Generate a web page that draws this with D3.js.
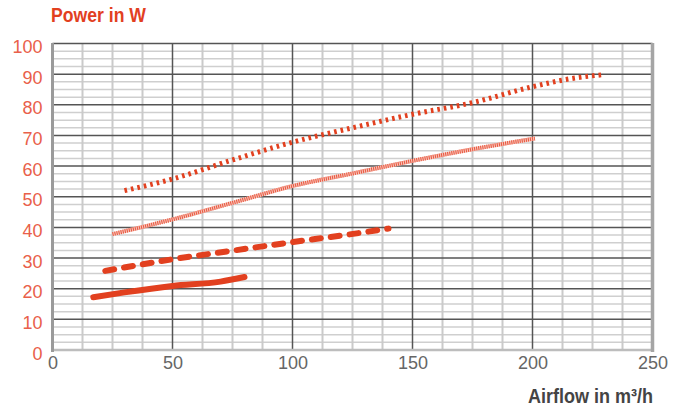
<!DOCTYPE html>
<html><head><meta charset="utf-8">
<script src="https://cdn.jsdelivr.net/npm/d3@7"></script>
<style>body{margin:0;background:#fff}svg{display:block}</style>
</head><body>
<svg id="c" width="683" height="412"></svg>
<script>
const xTicks = [0, 50, 100, 150, 200, 250];
const yTicks = [0, 10, 20, 30, 40, 50, 60, 70, 80, 90, 100];
const titleY = "Power in W";
const titleX = "Airflow in m³/h";

const solidX = [17, 30, 50, 70, 80];
const solidY = [17.2, 18.8, 20.9, 22.3, 23.8];
const dashedX = [22, 50, 75, 100, 120, 140];
const dashedY = [25.8, 29.6, 32.4, 35.2, 37.3, 39.6];
const hatchX = [25, 50, 75, 100, 125, 150, 175, 201];
const hatchY = [37.8, 42.6, 48, 53.5, 57.6, 61.7, 65.5, 69];
const dotX = [30, 50, 75, 100, 125, 150, 175, 200, 215, 229];
const dotY = [52, 55.8, 62, 67.8, 72.5, 76.9, 80.7, 85.9, 88.4, 89.8];

const svg = d3.select("#c");
const x = d3.scaleLinear().domain([0, 250]).range([52.5, 652.5]);
const y = d3.scaleLinear().domain([0, 100]).range([350, 43.5]);
const red = "#e2401f";

const g = svg.append("g");
const minorX = d3.range(0, 250.01, 12.5).filter(v => v % 50 !== 0);
const minorY = d3.range(0, 100.01, 2.5).filter(v => v % 10 !== 0);
g.selectAll(".my").data(minorY).join("line")
  .attr("x1", x(0)).attr("x2", x(250)).attr("y1", d => y(d)).attr("y2", d => y(d))
  .attr("stroke", "#cfcfcf").attr("stroke-width", 1.5);
g.selectAll(".mx").data(minorX).join("line")
  .attr("x1", d => x(d)).attr("x2", d => x(d)).attr("y1", y(0)).attr("y2", y(100))
  .attr("stroke", "#cacaca").attr("stroke-width", 2);
g.selectAll(".My").data(yTicks.filter(v => v > 0)).join("line")
  .attr("x1", x(0)).attr("x2", x(250)).attr("y1", d => y(d)).attr("y2", d => y(d))
  .attr("stroke", "#555").attr("stroke-width", 1.5);
g.selectAll(".Mx").data(xTicks.filter(v => v > 0 && v < 250)).join("line")
  .attr("x1", d => x(d)).attr("x2", d => x(d)).attr("y1", y(0)).attr("y2", y(100))
  .attr("stroke", "#555").attr("stroke-width", 1.5);
g.append("line").attr("x1", x(0)).attr("x2", x(250)).attr("y1", y(0)).attr("y2", y(0))
  .attr("stroke", "#bdbdbd").attr("stroke-width", 2.5);
g.append("line").attr("x1", x(0)).attr("x2", x(0)).attr("y1", y(100) - 0.5).attr("y2", y(0) + 2)
  .attr("stroke", "#9a9a9a").attr("stroke-width", 3);
g.append("line").attr("x1", x(250)).attr("x2", x(250)).attr("y1", y(100) - 0.5).attr("y2", y(0) + 2)
  .attr("stroke", "#a5a5a5").attr("stroke-width", 3.5);

const yAxis = d3.axisLeft(y).tickValues(yTicks).tickSize(0).tickPadding(10);
const ya = svg.append("g").attr("transform", `translate(${x(0)},0)`).call(yAxis);
ya.select(".domain").remove();
ya.selectAll("text").attr("fill", "#e9604a").attr("font-size", 18)
  .attr("font-family", "'Liberation Sans', Arial, sans-serif").attr("dy", "0.5em");
const xAxis = d3.axisBottom(x).tickValues(xTicks).tickSize(0).tickPadding(6);
const xa = svg.append("g").attr("transform", `translate(0,${y(0)})`).call(xAxis);
xa.select(".domain").remove();
xa.selectAll("text").attr("fill", "#666").attr("font-size", 18)
  .attr("font-family", "'Liberation Sans', Arial, sans-serif");

svg.append("text").attr("x", 51).attr("y", 22).text(titleY)
  .attr("fill", red).attr("font-weight", "bold").attr("font-size", 21)
  .attr("textLength", 95).attr("lengthAdjust", "spacingAndGlyphs")
  .attr("font-family", "'Liberation Sans', Arial, sans-serif");
svg.append("text").attr("x", 528).attr("y", 403).text(titleX)
  .attr("fill", "#444").attr("font-weight", "bold").attr("font-size", 21)
  .attr("textLength", 125).attr("lengthAdjust", "spacingAndGlyphs")
  .attr("font-family", "'Liberation Sans', Arial, sans-serif");

const line = d3.line().x(d => x(d[0])).y(d => y(d[1])).curve(d3.curveMonotoneX);
const zip = (a, b) => a.map((v, i) => [v, b[i]]);

svg.append("path").attr("d", line(zip(hatchX, hatchY))).attr("fill", "none")
  .attr("stroke", "#f7c1b6").attr("stroke-width", 4);
svg.append("path").attr("d", line(zip(hatchX, hatchY))).attr("fill", "none")
  .attr("stroke", "#e8573f").attr("stroke-width", 4).attr("stroke-dasharray", "1,1.1");
svg.append("path").attr("d", line(zip(dotX, dotY))).attr("fill", "none")
  .attr("stroke", red).attr("stroke-width", 5).attr("stroke-dasharray", "2.6,4");
svg.append("path").attr("d", line(zip(dashedX, dashedY))).attr("fill", "none")
  .attr("stroke", red).attr("stroke-width", 6).attr("stroke-linecap", "round")
  .attr("stroke-dasharray", "9,10");
svg.append("path").attr("d", line(zip(solidX, solidY))).attr("fill", "none")
  .attr("stroke", red).attr("stroke-width", 6).attr("stroke-linecap", "round");
</script>
</body></html>
